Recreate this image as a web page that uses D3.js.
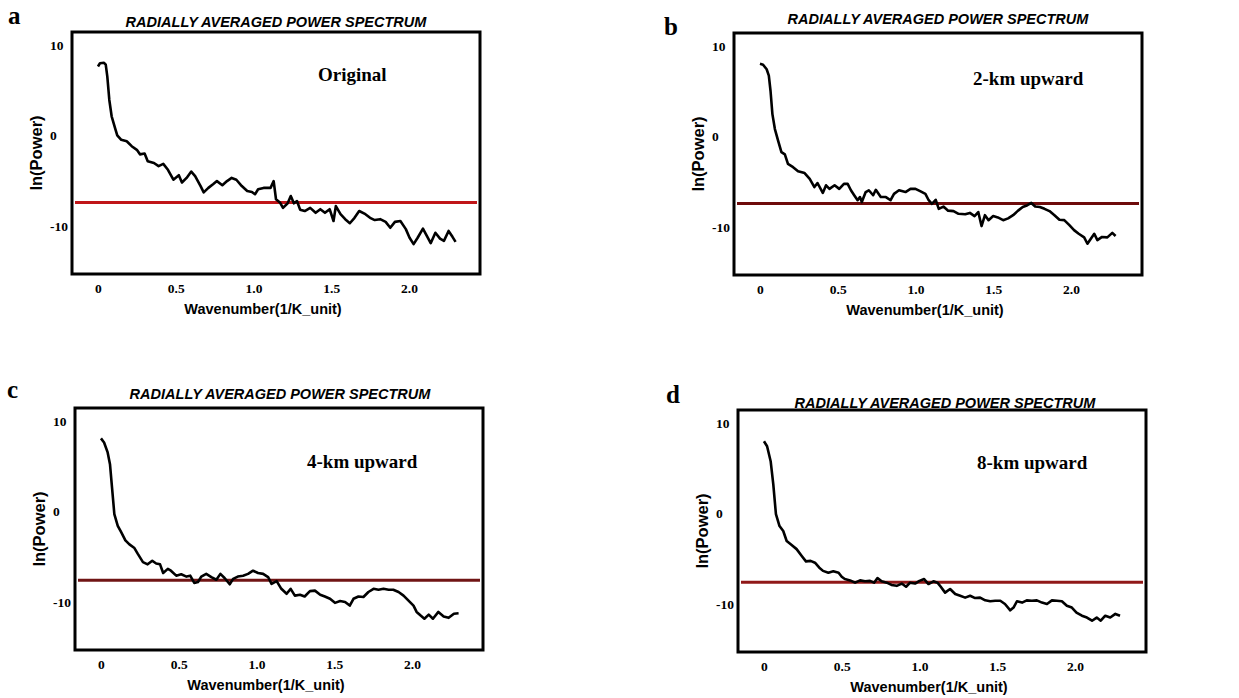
<!DOCTYPE html>
<html lang="en">
<head>
<meta charset="utf-8">
<title>Radially averaged power spectrum</title>
<script src="https://d3js.org/d3.v7.min.js"></script>
<style>
  body { margin: 0; background: #fff; }
  .title { font-family: "Liberation Sans", Arial, sans-serif; font-weight: bold; font-style: italic; font-size: 14.5px; }
  .axtitle { font-family: "Liberation Sans", Arial, sans-serif; font-weight: bold; font-size: 14.5px; }
  .ytitle { font-family: "Liberation Sans", Arial, sans-serif; font-weight: bold; font-size: 16.5px; }
  .tick text { font-family: "Liberation Serif", "Times New Roman", serif; font-weight: bold; font-size: 13.5px; fill: #000; }
  .letter { font-family: "Liberation Serif", "Times New Roman", serif; font-weight: bold; font-size: 25px; }
  .note { font-family: "Liberation Serif", "Times New Roman", serif; font-weight: bold; font-size: 19px; }
</style>
</head>
<body>
<svg id="chart" width="1239" height="698"></svg>
<script>
// tick labels
var xTicks = [0, 0.5, 1.0, 1.5, 2.0];
var yTicks = [10, 0, -10];
var title = "RADIALLY AVERAGED POWER SPECTRUM";
var xLabel = "Wavenumber(1/K_unit)";
var yLabel = "ln(Power)";

// (a) original
var origK = [0,0.013,0.039,0.05,0.06,0.073,0.088,0.11,0.124,0.15,0.185,0.217,0.25,0.27,0.30,0.32,0.36,0.39,0.42,0.45,0.485,0.52,0.54,0.57,0.60,0.625,0.66,0.68,0.71,0.74,0.765,0.80,0.83,0.86,0.89,0.925,0.96,0.99,1.01,1.03,1.065,1.11,1.13,1.145,1.17,1.19,1.22,1.24,1.26,1.28,1.30,1.33,1.365,1.40,1.43,1.46,1.49,1.515,1.53,1.56,1.59,1.62,1.65,1.68,1.72,1.75,1.78,1.815,1.85,1.88,1.91,1.945,1.98,2.004,2.03,2.056,2.09,2.115,2.14,2.17,2.20,2.225,2.255,2.28,2.30];
var origP = [7.6,7.95,8.0,7.8,6.5,3.9,2.1,0.8,0.0,-0.5,-0.65,-1.2,-1.6,-2.1,-2.0,-2.85,-3.05,-3.4,-3.15,-3.8,-4.9,-4.4,-5.2,-4.7,-4.0,-4.5,-5.6,-6.3,-5.8,-5.4,-5.05,-5.5,-5.05,-4.7,-4.9,-5.6,-6.15,-6.25,-6.5,-5.95,-5.8,-5.8,-5.05,-7.05,-7.4,-8.0,-7.5,-6.7,-7.5,-7.25,-8.2,-8.35,-8.0,-8.55,-8.15,-8.55,-8.15,-9.45,-7.8,-8.7,-9.25,-9.7,-9.1,-8.35,-8.7,-9.1,-9.35,-9.25,-9.55,-10.2,-9.55,-9.45,-10.35,-11.3,-12.0,-11.3,-10.3,-11.1,-11.9,-10.75,-11.4,-11.65,-10.55,-11.2,-11.75];

// (b) 2-km upward
var up2K = [0,0.02,0.043,0.057,0.068,0.08,0.096,0.117,0.138,0.16,0.18,0.213,0.245,0.287,0.32,0.35,0.37,0.404,0.425,0.447,0.48,0.51,0.54,0.564,0.585,0.606,0.628,0.643,0.655,0.68,0.70,0.728,0.745,0.777,0.81,0.84,0.862,0.894,0.936,0.968,1.0,1.03,1.064,1.085,1.106,1.13,1.15,1.18,1.21,1.245,1.277,1.32,1.35,1.38,1.404,1.425,1.447,1.47,1.5,1.53,1.564,1.596,1.628,1.66,1.69,1.72,1.745,1.77,1.8,1.83,1.862,1.894,1.926,1.957,1.99,2.02,2.05,2.085,2.106,2.128,2.15,2.17,2.2,2.234,2.266,2.287];
var up2P = [8.0,7.9,7.4,6.7,5.0,2.45,0.8,-0.5,-1.75,-2.0,-3.05,-3.4,-3.85,-4.05,-4.7,-5.6,-5.15,-6.25,-5.4,-5.8,-5.4,-5.8,-5.25,-5.25,-5.95,-6.5,-7.05,-6.7,-7.25,-6.15,-5.95,-6.5,-5.9,-6.7,-6.7,-7.05,-6.35,-5.95,-6.15,-5.8,-5.8,-6.05,-6.35,-7.05,-7.45,-7.0,-8.0,-7.75,-8.2,-8.25,-8.55,-8.6,-8.45,-8.8,-8.35,-9.9,-8.7,-9.25,-8.8,-8.95,-9.25,-9.05,-8.7,-8.2,-7.8,-7.6,-7.35,-7.75,-7.8,-8.0,-8.25,-8.7,-9.2,-9.25,-9.8,-10.35,-10.75,-11.15,-11.85,-11.3,-10.75,-11.45,-11.1,-11.15,-10.65,-11.0];

// (c) 4-km upward
var up4K = [0,0.02,0.043,0.058,0.071,0.086,0.108,0.13,0.157,0.183,0.215,0.237,0.27,0.30,0.33,0.355,0.38,0.40,0.43,0.45,0.484,0.516,0.55,0.574,0.60,0.624,0.645,0.677,0.71,0.742,0.768,0.795,0.828,0.85,0.88,0.914,0.946,0.978,1.01,1.043,1.075,1.097,1.13,1.16,1.194,1.22,1.247,1.28,1.31,1.344,1.376,1.41,1.44,1.473,1.505,1.538,1.57,1.6,1.624,1.656,1.688,1.72,1.753,1.785,1.817,1.85,1.88,1.914,1.946,1.978,2.01,2.03,2.056,2.08,2.108,2.135,2.17,2.204,2.236,2.27,2.30];
var up4P = [8.05,7.6,6.5,5.2,2.65,-0.3,-1.6,-2.3,-3.2,-3.65,-4.05,-4.7,-5.6,-5.85,-5.45,-5.75,-5.85,-6.8,-6.35,-6.55,-7.1,-6.95,-7.2,-7.1,-7.9,-7.8,-7.2,-6.9,-7.25,-7.55,-6.9,-7.35,-8.05,-7.45,-7.2,-7.1,-6.9,-6.55,-6.8,-6.9,-7.25,-8.0,-7.7,-8.55,-9.1,-8.55,-9.3,-9.2,-9.4,-8.8,-8.75,-9.2,-9.4,-9.65,-10.1,-9.9,-10.0,-10.4,-9.65,-9.4,-9.45,-8.9,-8.55,-8.65,-8.55,-8.65,-8.65,-8.9,-9.3,-9.85,-10.4,-11.1,-11.5,-11.85,-11.4,-11.85,-11.1,-11.6,-11.75,-11.3,-11.25];

// (d) 8-km upward
var up8K = [0,0.02,0.043,0.06,0.077,0.1,0.124,0.146,0.178,0.21,0.243,0.27,0.3,0.328,0.356,0.38,0.414,0.446,0.48,0.5,0.52,0.554,0.586,0.618,0.65,0.682,0.708,0.73,0.757,0.79,0.82,0.854,0.886,0.914,0.94,0.972,1.0,1.03,1.058,1.09,1.116,1.137,1.165,1.197,1.23,1.262,1.294,1.326,1.358,1.39,1.423,1.455,1.487,1.52,1.55,1.584,1.605,1.627,1.66,1.69,1.723,1.755,1.788,1.82,1.852,1.884,1.916,1.948,1.98,2.01,2.045,2.077,2.11,2.14,2.166,2.195,2.227,2.26,2.29];
var up8P = [7.95,7.4,5.75,3.2,-0.1,-1.4,-1.95,-3.05,-3.5,-3.95,-4.7,-5.3,-5.25,-5.45,-6.0,-6.35,-6.55,-6.4,-6.55,-7.0,-7.25,-7.4,-7.65,-7.4,-7.5,-7.45,-7.65,-7.15,-7.5,-7.65,-7.9,-8.0,-7.75,-8.1,-7.65,-7.75,-7.45,-7.25,-7.8,-7.5,-7.65,-8.1,-8.75,-8.35,-8.9,-9.1,-9.3,-9.1,-9.35,-9.3,-9.6,-9.7,-9.65,-9.65,-10.0,-10.7,-10.4,-9.7,-9.85,-9.6,-9.65,-9.6,-9.85,-10.0,-9.6,-9.65,-9.7,-10.2,-10.4,-10.95,-11.3,-11.5,-11.85,-11.5,-11.85,-11.3,-11.5,-11.1,-11.3];

// horizontal reference level per panel
var refLevel = [-7.4, -7.4, -7.6, -7.6];
var refColor = ["#c01518", "#6e0b0b", "#701414", "#901818"];
var notes = ["Original", "2-km upward", "4-km upward", "8-km upward"];
var letters = ["a", "b", "c", "d"];

var series = [
  {k: origK, p: origP},
  {k: up2K, p: up2P},
  {k: up4K, p: up4P},
  {k: up8K, p: up8P}
];

// layout of each panel (frame corner, title & letter positions)
var panels = [
  {left: 72,  top: 32,  titleX: 276, titleY: 27,  letX: 8,   letY: 24,  noteX: 246, noteY: 49},
  {left: 734, top: 33,  titleX: 938, titleY: 24,  letX: 664, letY: 35,  noteX: 239, noteY: 52},
  {left: 75,  top: 408, titleX: 280, titleY: 399, letX: 7,   letY: 398, noteX: 232, noteY: 60},
  {left: 738, top: 410, titleX: 945, titleY: 408, letX: 666, letY: 403, noteX: 239, noteY: 59}
];

var W = 408, H = 242;
var x = d3.scaleLinear().domain([-0.167, 2.457]).range([0, W]);
var y = d3.scaleLinear().domain([-15.3, 11.4]).range([H, 0]);

var svg = d3.select("#chart");

panels.forEach(function(pn, i){
  svg.append("text").attr("class","letter")
    .attr("x", pn.letX).attr("y", pn.letY).text(letters[i]);

  svg.append("text").attr("class","title")
    .attr("x", pn.titleX).attr("y", pn.titleY)
    .attr("text-anchor","middle").text(title);

  var g = svg.append("g").attr("transform","translate("+pn.left+","+pn.top+")");

  // x axis labels (no tick marks)
  var xa = g.append("g").attr("transform","translate(0,"+(H+6)+")")
    .call(d3.axisBottom(x).tickValues(xTicks).tickSize(0)
      .tickFormat(function(d){ return d === 0 ? "0" : d.toFixed(1); }));
  xa.select(".domain").remove();

  var ya = g.append("g")
    .call(d3.axisLeft(y).tickValues(yTicks).tickSize(0).tickFormat(function(d){ return String(d); }));
  ya.select(".domain").remove();
  ya.selectAll("text").attr("x", -22).attr("text-anchor","start");

  // reference level
  g.append("line")
    .attr("x1", 3).attr("x2", W-3)
    .attr("y1", y(refLevel[i])).attr("y2", y(refLevel[i]))
    .attr("stroke", refColor[i]).attr("stroke-width", 3);

  // spectrum curve
  var s = series[i];
  var line = d3.line().x(function(d){ return x(d[0]); }).y(function(d){ return y(d[1]); });
  g.append("path")
    .datum(d3.zip(s.k, s.p))
    .attr("d", line)
    .attr("fill","none").attr("stroke","#000")
    .attr("stroke-width", 2.6).attr("stroke-linejoin","round");

  // frame
  g.append("rect").attr("x",0).attr("y",0).attr("width",W).attr("height",H)
    .attr("fill","none").attr("stroke","#000").attr("stroke-width",3);

  g.append("text").attr("class","note")
    .attr("x", pn.noteX).attr("y", pn.noteY).text(notes[i]);

  g.append("text").attr("class","axtitle")
    .attr("x", 191).attr("y", H+40)
    .attr("text-anchor","middle").text(xLabel);

  g.append("text").attr("class","ytitle")
    .attr("transform","translate(-36,"+(H/2)+") rotate(-90)")
    .attr("text-anchor","middle").attr("dy","0.35em").text(yLabel);
});
</script>
</body>
</html>
